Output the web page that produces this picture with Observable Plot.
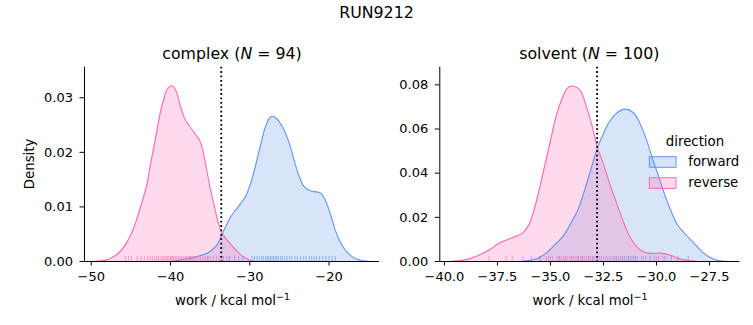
<!DOCTYPE html>
<html>
<head>
<meta charset="utf-8">
<script src="https://cdn.jsdelivr.net/npm/d3@7"></script>
<script src="https://cdn.jsdelivr.net/npm/@observablehq/plot@0.6"></script>
<style>
  html, body { margin: 0; padding: 0; background: white; }
  #wrap { position: relative; width: 753px; height: 325px; font-family: "DejaVu Sans", sans-serif; overflow: hidden; }
  #overlay { position: absolute; left: 0; top: 0; pointer-events: none; }
</style>
</head>
<body>
<div id="wrap"></div>
<script>
// ---------- data ----------
const suptitle = "RUN9212";
const directions = ["forward", "reverse"];
const colors = ["#6495ED", "#FF69B4"];

// complex panel: KDE curves
const complexForwardWork = [-40, -39, -38, -37, -36.2, -35.4, -34.7, -34.1, -33.5, -32.9, -32.4, -31.8, -31.2, -30.5, -29.9, -29.2, -28.6, -28.0, -27.5, -27.2, -26.7, -26.2, -25.7, -25.0, -24.4, -23.8, -23.2, -22.6, -21.9, -21.3, -20.9, -20.4, -19.9, -19.4, -18.8, -18.2, -17.4, -16.6, -15.6, -14.5];
const complexForwardDensity = [0, 0.0002, 0.0005, 0.0008, 0.0011, 0.0015, 0.0022, 0.0031, 0.0050, 0.0068, 0.0082, 0.0094, 0.0105, 0.0120, 0.0143, 0.0180, 0.0216, 0.0248, 0.0263, 0.0266, 0.0263, 0.0254, 0.0242, 0.0216, 0.0185, 0.0157, 0.0138, 0.0131, 0.0128, 0.0127, 0.0123, 0.0110, 0.0090, 0.0066, 0.0042, 0.0026, 0.0012, 0.0005, 0.0001, 0];
const complexReverseWork = [-50.0, -49.0, -48.0, -47.5, -46.5, -45.5, -44.6, -43.8, -43.0, -42.5, -41.9, -41.3, -40.8, -40.4, -39.8, -39.3, -38.8, -38.3, -37.7, -37.2, -36.7, -36.2, -35.8, -35.4, -35.0, -34.5, -34.0, -33.5, -32.9, -32.4, -31.8, -31.2, -30.5, -29.9, -29.2];
const complexReverseDensity = [0, 0.0001, 0.0003, 0.0006, 0.0016, 0.0035, 0.0063, 0.0099, 0.0140, 0.0180, 0.0225, 0.0272, 0.0300, 0.0316, 0.0322, 0.0312, 0.0288, 0.0265, 0.0250, 0.0240, 0.0230, 0.0218, 0.0195, 0.0165, 0.0135, 0.0103, 0.0072, 0.0052, 0.0040, 0.0032, 0.0022, 0.0013, 0.0006, 0.0002, 0];

// solvent panel
const solventForwardWork = [-36.4, -36.0, -35.6, -35.2, -34.8, -34.4, -34.0, -33.7, -33.4, -33.1, -32.8, -32.5, -32.2, -31.9, -31.5, -31.1, -30.8, -30.5, -30.2, -29.9, -29.6, -29.3, -29.0, -28.6, -28.2, -27.8, -27.4, -27.0, -26.5];
const solventForwardDensity = [0, 0.0005, 0.0015, 0.0038, 0.0075, 0.0115, 0.0180, 0.0235, 0.0320, 0.0415, 0.0510, 0.0580, 0.0635, 0.0670, 0.0690, 0.0675, 0.0630, 0.0560, 0.0470, 0.0385, 0.0300, 0.0225, 0.0165, 0.0120, 0.0080, 0.0040, 0.0015, 0.0003, 0];
const solventReverseWork = [-39.7, -39.2, -38.8, -38.3, -37.8, -37.4, -37.0, -36.6, -36.3, -36.0, -35.7, -35.4, -35.0, -34.7, -34.4, -34.2, -33.95, -33.6, -33.3, -33.0, -32.8, -32.5, -32.2, -31.9, -31.6, -31.3, -31.0, -30.7, -30.3, -29.8, -29.3, -28.9, -28.4, -28.0];
const solventReverseDensity = [0, 0.0005, 0.0013, 0.0032, 0.0058, 0.0085, 0.0100, 0.0115, 0.0130, 0.0170, 0.0260, 0.0380, 0.0548, 0.0670, 0.0750, 0.0785, 0.0795, 0.0775, 0.0700, 0.0600, 0.0520, 0.0440, 0.0350, 0.0270, 0.0190, 0.0120, 0.0075, 0.0048, 0.0037, 0.0038, 0.0027, 0.0012, 0.0003, 0];

// rug samples (estimated from the tick marks)
const complexForwardRug = [-37.6, -35.3, -33.3, -32.9, -32.5, -31.9, -30.9, -29.7, -29.4, -29.1, -28.8, -28.5, -28.3, -28.0, -27.8, -27.6, -27.4, -27.2, -27.0, -26.8, -26.6, -26.4, -26.1, -25.9, -25.6, -25.3, -25.0, -24.7, -24.3, -24.0, -23.6, -23.2, -22.9, -22.5, -22.2, -21.9, -21.6, -21.2, -20.8, -20.4, -20.0, -19.6, -19.2];
const complexReverseRug = [-45.7, -45.3, -44.9, -44.2, -43.7, -43.3, -42.9, -42.6, -42.3, -42.0, -41.7, -41.5, -41.2, -41.0, -40.8, -40.6, -40.4, -40.2, -40.0, -39.9, -39.7, -39.6, -39.4, -39.2, -39.0, -38.8, -38.6, -38.4, -38.2, -38.0, -37.8, -37.5, -37.3, -37.1, -36.9, -36.7, -36.4, -36.2, -35.9, -35.6, -35.3, -35.0, -34.6, -34.2, -33.9, -33.5, -32.6, -31.4];
const solventForwardRug = [-35.5, -35.1, -34.6, -34.3, -34.0, -33.7, -33.5, -33.2, -33.0, -32.8, -32.6, -32.4, -32.2, -32.0, -31.9, -31.8, -31.7, -31.6, -31.5, -31.4, -31.3, -31.2, -31.1, -31.0, -30.9, -30.7, -30.5, -30.3, -30.1, -29.9, -29.6, -29.3, -29.0, -28.5];
const solventReverseRug = [-37.9, -37.1, -36.8, -36.3, -35.9, -35.5, -35.2, -35.0, -34.9, -34.7, -34.6, -34.5, -34.4, -34.3, -34.2, -34.1, -34.0, -33.9, -33.8, -33.7, -33.6, -33.5, -33.4, -33.3, -33.2, -33.1, -33.0, -32.9, -32.7, -32.5, -32.3, -32.1, -31.9, -31.6, -31.3, -31.0, -30.6, -30.0, -29.7];

// vertical reference (dotted) lines
const complexEstimate = -33.6;
const solventEstimate = -32.8;

// axes
const complexXDomain = [-50.85, -13.64];
const complexYDomain = [0, 0.0356];
const complexXTicks = [-50, -40, -30, -20];
const complexYTicks = [0, 0.01, 0.02, 0.03];
const solventXDomain = [-40.22, -26.07];
const solventYDomain = [0, 0.088];
const solventXTicks = [-40, -37.5, -35, -32.5, -30, -27.5];
const solventYTicks = [0, 0.02, 0.04, 0.06, 0.08];

// ---------- build ----------
function series(work, dens, dir) {
  return work.map((w, i) => ({work: w, density: dens[i], direction: dir}));
}
function rug(vals, dir) { return vals.map(v => ({work: v, direction: dir})); }

const svgH = 325, mTop = 66.7, mBottom = 64;
const plotH = svgH - mTop - mBottom;

function panel({width, mLeft, mRight, xDomain, yDomain, xTicks, yTicks, xFmt, curves, rugs, estimate}) {
  return Plot.plot({
    width, height: svgH,
    marginLeft: mLeft, marginRight: mRight, marginTop: mTop, marginBottom: mBottom,
    style: {fontFamily: "DejaVu Sans, sans-serif", fontSize: "13px", color: "black", background: "transparent", overflow: "visible"},
    x: {domain: xDomain, label: null},
    y: {domain: yDomain, label: null},
    color: {domain: directions, range: colors},
    marks: [
      Plot.areaY(curves, {x: "work", y1: 0, y2: "density", z: "direction", fill: "direction", fillOpacity: 0.25, curve: "catmull-rom"}),
      Plot.line(curves, {x: "work", y: "density", z: "direction", stroke: "direction", strokeWidth: 1.1, curve: "catmull-rom"}),
      Plot.ruleX(rugs, {x: "work", stroke: "direction", strokeOpacity: 0.6, strokeWidth: 1, insetTop: plotH - 5}),
      Plot.ruleX([estimate], {stroke: "black", strokeWidth: 1.8, strokeDasharray: "1.8,2.6"}),
      Plot.ruleY([yDomain[0]], {stroke: "black", strokeWidth: 1}),
      Plot.ruleX([xDomain[0]], {stroke: "black", strokeWidth: 1}),
      Plot.axisX({ticks: xTicks, tickSize: 4.5, tickPadding: 6.2, tickFormat: xFmt, label: null, fontSize: 13}),
      Plot.axisY({ticks: yTicks, tickSize: 4.5, tickPadding: 7, tickFormat: ".2f", label: null, fontSize: 13})
    ]
  });
}

const wrap = document.getElementById("wrap");

const leftPlot = panel({
  width: 380, mLeft: 84, mRight: 1,
  xDomain: complexXDomain, yDomain: complexYDomain, xTicks: complexXTicks, yTicks: complexYTicks,
  xFmt: d3.format("d"),
  curves: [...series(complexForwardWork, complexForwardDensity, "forward"), ...series(complexReverseWork, complexReverseDensity, "reverse")],
  rugs: [...rug(complexForwardRug, "forward"), ...rug(complexReverseRug, "reverse")],
  estimate: complexEstimate
});
leftPlot.style.position = "absolute"; leftPlot.style.left = "0px"; leftPlot.style.top = "0px";
wrap.appendChild(leftPlot);

const rightPlot = panel({
  width: 373, mLeft: 59.3, mRight: 13.7,
  xDomain: solventXDomain, yDomain: solventYDomain, xTicks: solventXTicks, yTicks: solventYTicks,
  xFmt: d3.format(".1f"),
  curves: [...series(solventForwardWork, solventForwardDensity, "forward"), ...series(solventReverseWork, solventReverseDensity, "reverse")],
  rugs: [...rug(solventForwardRug, "forward"), ...rug(solventReverseRug, "reverse")],
  estimate: solventEstimate
});
rightPlot.style.position = "absolute"; rightPlot.style.left = "380px"; rightPlot.style.top = "0px";
wrap.appendChild(rightPlot);

// ---------- text & legend overlay ----------
const ns = "http://www.w3.org/2000/svg";
const ov = document.createElementNS(ns, "svg");
ov.setAttribute("id", "overlay");
ov.setAttribute("width", 753); ov.setAttribute("height", 325);
ov.style.fontFamily = "DejaVu Sans, sans-serif";
wrap.appendChild(ov);

function txt(x, y, html, size, anchor = "middle", rotate = 0) {
  const t = document.createElementNS(ns, "text");
  t.setAttribute("x", x); t.setAttribute("y", y);
  t.setAttribute("font-size", size);
  t.setAttribute("text-anchor", anchor);
  t.setAttribute("fill", "black");
  if (rotate) t.setAttribute("transform", `rotate(${rotate},${x},${y})`);
  t.innerHTML = html;
  ov.appendChild(t);
  return t;
}
txt(376.5, 18.3, suptitle, 15.8);
txt(232, 59, 'complex (<tspan font-style="italic">N</tspan> = 94)', 15.8);
txt(589.3, 59, 'solvent (<tspan font-style="italic">N</tspan> = 100)', 15.8);
const xl = 'work / kcal mol<tspan font-size="9.5" dy="-5">−1</tspan>';
txt(232.5, 305, xl, 13.3);
txt(590, 305, xl, 13.3);
txt(34.5, 163.9, "Density", 13.3, "middle", -90);

// legend
txt(695, 146, "direction", 13.3);
directions.forEach((d, i) => {
  const y = 156.7 + i * 21;
  const r = document.createElementNS(ns, "rect");
  r.setAttribute("x", 649.3); r.setAttribute("y", y);
  r.setAttribute("width", 26.7); r.setAttribute("height", 10.6);
  r.setAttribute("fill", colors[i]); r.setAttribute("fill-opacity", 0.25);
  r.setAttribute("stroke", colors[i]); r.setAttribute("stroke-width", 1);
  ov.appendChild(r);
  txt(688.3, 166 + i * 21.3, d, 13.3, "start");
});
</script>
</body>
</html>
